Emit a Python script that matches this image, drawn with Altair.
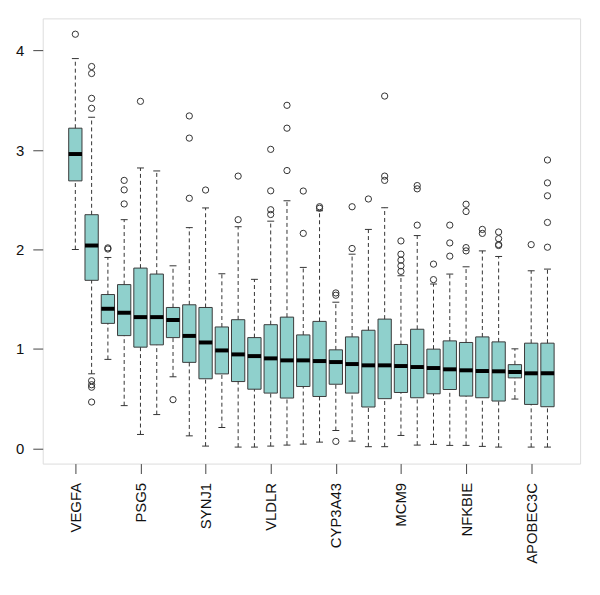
import altair as alt
import pandas as pd
import json

genes = ["VEGFA", "FLT1", "KIT", "GATA4", "PSG5", "PSMB8", "SLC20A2", "C1orf198",
         "SYNJ1", "KCTD14", "MZF1", "ZNF14", "VLDLR", "SREBF1", "EGFR", "SGK3",
         "CYP3A43", "AKAP7", "PRG3", "PCLKC", "MCM9", "HLA.B", "C1orf177",
         "PCDHGA2", "NFKBIE", "MRPS7", "FLJ10986", "OR10H5", "APOBEC3C", "AHNAK"]

lower = [2.00, 0.75, 0.895, 0.43, 0.14, 0.34, 0.72, 0.126, 0.023, 0.21, 0.013, 0.013,
         0.023, 0.033, 0.043, 0.063, 0.18, 0.073, 0.017, 0.017, 0.13, 0.033, 0.04,
         0.03, 0.03, 0.02, 0.013, 0.496, 0.013, 0.013]
q1 = [2.69, 1.69, 1.257, 1.134, 1.018, 1.041, 1.114, 0.865, 0.70, 0.749, 0.672, 0.595,
      0.556, 0.506, 0.622, 0.522, 0.645, 0.556, 0.416, 0.50, 0.562, 0.509, 0.549,
      0.592, 0.526, 0.509, 0.476, 0.709, 0.442, 0.419]
median = [2.96, 2.04, 1.404, 1.364, 1.32, 1.32, 1.29, 1.131, 1.065, 0.985, 0.945, 0.928,
          0.905, 0.885, 0.885, 0.878, 0.868, 0.848, 0.835, 0.835, 0.828, 0.818, 0.808,
          0.795, 0.785, 0.778, 0.775, 0.768, 0.755, 0.755]
q3 = [3.22, 2.35, 1.547, 1.647, 1.813, 1.753, 1.417, 1.444, 1.417, 1.221, 1.294, 1.114,
      1.244, 1.32, 1.141, 1.277, 0.991, 1.121, 1.188, 1.30, 1.045, 1.198, 0.998,
      1.081, 1.065, 1.121, 1.071, 0.842, 1.058, 1.058]
upper = [3.92, 3.33, 1.92, 2.30, 2.82, 2.79, 1.836, 2.22, 2.418, 1.756, 2.229, 1.70,
         2.285, 2.49, 1.82, 2.39, 1.47, 1.953, 2.202, 2.42, 1.736, 2.14, 1.653,
         1.753, 1.826, 1.986, 1.93, 1.001, 1.786, 1.803]

outliers = [
    [4.165],
    [3.84, 3.77, 3.52, 3.42, 0.68, 0.64, 0.615, 0.466],
    [2.016, 2.005],
    [2.695, 2.60, 2.458],
    [3.49],
    [],
    [0.49],
    [3.343, 3.12, 2.515],
    [2.598],
    [],
    [2.738, 2.30],
    [],
    [3.007, 2.59, 2.40, 2.352],
    [3.45, 3.22, 2.794],
    [2.588, 2.162],
    [2.43, 2.415],
    [1.563, 1.54, 0.07],
    [2.43, 2.01],
    [2.508],
    [3.543, 2.738, 2.695],
    [2.086, 1.953, 1.893, 1.836, 1.78],
    [2.643, 2.61, 2.245],
    [1.853, 1.697],
    [2.245, 2.066, 1.933],
    [2.455, 2.382, 2.019, 1.986],
    [2.202, 2.162],
    [2.176, 2.109, 2.05, 2.04],
    [],
    [2.049],
    [2.90, 2.67, 2.54, 2.272, 2.023],
]

y_ticks = [0, 1, 2, 3, 4]

idx = list(range(1, len(genes) + 1))
box_df = pd.DataFrame({"idx": idx, "gene": genes, "lower": lower, "q1": q1,
                       "median": median, "q3": q3, "upper": upper})
out_df = pd.DataFrame([(i, v) for i, vals in zip(idx, outliers) for v in vals],
                      columns=["idx", "value"])

FONT = "Liberation Sans"
BOXW = 13.4

label_expr = json.dumps(genes) + "[datum.value - 1]"
x_axis = alt.Axis(title=None, values=idx, labelExpr=label_expr,
                  labelAngle=-90, labelAlign="right", labelBaseline="middle",
                  labelOverlap=False, tickSize=10, labelPadding=9)
y_axis = alt.Axis(title=None, values=y_ticks, labelExpr="format(datum.value, 'd')",
                  labelOverlap=False, tickSize=10, labelPadding=9)
x_scale = alt.Scale(domain=[-0.7, 31.7], nice=False, zero=False)
y_scale = alt.Scale(domain=[-0.153, 4.324], nice=False, zero=False)

x_enc = alt.X("idx:Q", scale=x_scale, axis=x_axis)
x_plain = alt.X("idx:Q", scale=x_scale, title=None)

base = alt.Chart(box_df)

# the box layer carries both axis definitions
boxes = base.mark_bar(size=BOXW, fill="#8fd0cc", stroke="#3a3a3a", strokeWidth=1,
                      opacity=1).encode(
    x=x_enc, y=alt.Y("q1:Q", scale=y_scale, axis=y_axis), y2="q3:Q")
whisk_lo = base.mark_rule(color="#333", strokeWidth=1, strokeDash=[4, 3]).encode(
    x=x_plain, y=alt.Y("lower:Q", scale=y_scale, title=None), y2="q1:Q")
whisk_hi = base.mark_rule(color="#333", strokeWidth=1, strokeDash=[4, 3]).encode(
    x=x_plain, y=alt.Y("q3:Q", scale=y_scale, title=None), y2="upper:Q")
cap_lo = base.mark_tick(color="#333", size=7, thickness=1, orient="horizontal",
                        opacity=1).encode(
    x=x_plain, y=alt.Y("lower:Q", scale=y_scale, title=None))
cap_hi = base.mark_tick(color="#333", size=7, thickness=1, orient="horizontal",
                        opacity=1).encode(
    x=x_plain, y=alt.Y("upper:Q", scale=y_scale, title=None))
meds = base.mark_tick(color="#000", size=BOXW, thickness=4, orient="horizontal",
                      opacity=1).encode(
    x=x_plain, y=alt.Y("median:Q", scale=y_scale, title=None))
pts = alt.Chart(out_df).mark_point(shape="circle", filled=False, color="#333",
                                   size=40, strokeWidth=1, opacity=1).encode(
    x=x_plain, y=alt.Y("value:Q", scale=y_scale, title=None))

chart = alt.layer(boxes, whisk_lo, whisk_hi, cap_lo, cap_hi, meds, pts).properties(
    width=542, height=449,
    autosize=alt.AutoSizeParams(type="none"),
    padding={"left": 35, "top": 8, "right": 12, "bottom": 125},
).configure_view(stroke="#666", strokeWidth=1).configure(
    background="white"
).configure_axis(
    labelFont=FONT, labelFontSize=15, labelColor="#111", tickColor="#444",
    tickSize=10, tickWidth=1, domain=False, grid=False, labelFlush=False,
    labelPadding=9, labelOverlap=False
)

chart.save("out.html", embed_options={"renderer": "svg", "actions": False})
